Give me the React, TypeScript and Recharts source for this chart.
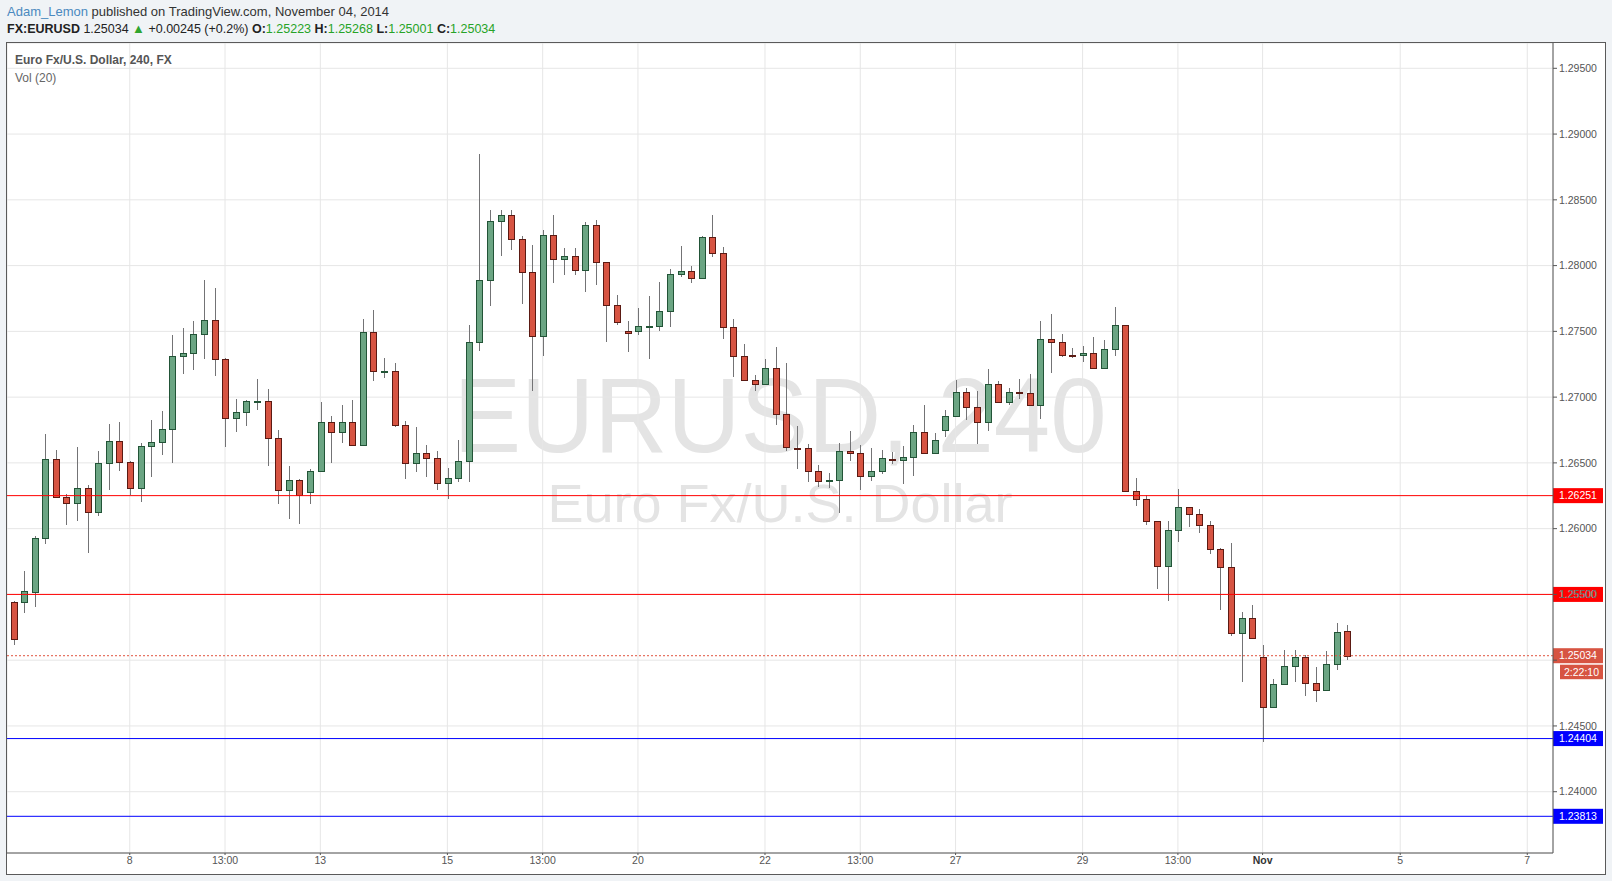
import React from 'react';
import { ComposedChart, Bar, XAxis, YAxis, CartesianGrid, ReferenceLine } from 'recharts';

// EURUSD 240 candles, oldest first
const opens = [
  1.25440, 1.25440, 1.25521, 1.25926, 1.26527, 1.26238, 1.26192, 1.26306, 1.26124, 1.26496,
  1.26664, 1.26504, 1.26306, 1.26626, 1.26656, 1.26755, 1.27310, 1.27333, 1.27477, 1.27583,
  1.27292, 1.26838, 1.26884, 1.26968, 1.26972, 1.26686, 1.26291, 1.26367, 1.26276, 1.26436,
  1.26808, 1.26732, 1.26808, 1.26633, 1.27492, 1.27196, 1.27201, 1.26785, 1.26496, 1.26572,
  1.26534, 1.26344, 1.26382, 1.26511, 1.27416, 1.27887, 1.28338, 1.28381, 1.28199, 1.27948,
  1.27462, 1.28230, 1.28048, 1.28071, 1.27964, 1.28306, 1.28025, 1.27699, 1.27500, 1.27500,
  1.27539, 1.27539, 1.27653, 1.27934, 1.27957, 1.27904, 1.28216, 1.28094, 1.27532, 1.27311,
  1.27131, 1.27100, 1.27222, 1.26870, 1.26617, 1.26615, 1.26437, 1.26362, 1.26368, 1.26588,
  1.26573, 1.26398, 1.26436, 1.26532, 1.26525, 1.26542, 1.26732, 1.26573, 1.26747, 1.26854,
  1.27036, 1.26922, 1.26808, 1.27097, 1.26961, 1.27036, 1.27030, 1.26939, 1.27440, 1.27418,
  1.27321, 1.27317, 1.27332, 1.27218, 1.27363, 1.27545, 1.26284, 1.26223, 1.26056, 1.25714,
  1.25987, 1.26162, 1.26109, 1.26025, 1.25843, 1.25706, 1.25204, 1.25318, 1.25024, 1.24642,
  1.24817, 1.24954, 1.25024, 1.24824, 1.24771, 1.24969, 1.25223,
];
const highs = [
  1.25448, 1.25678, 1.25944, 1.26719, 1.26598, 1.26261, 1.26620, 1.26332, 1.26590, 1.26795,
  1.26810, 1.26514, 1.26648, 1.26826, 1.26893, 1.27472, 1.27525, 1.27576, 1.27893, 1.27829,
  1.27295, 1.26986, 1.26975, 1.27137, 1.27063, 1.26749, 1.26476, 1.26377, 1.26453, 1.26961,
  1.26854, 1.26938, 1.26976, 1.27592, 1.27661, 1.27294, 1.27256, 1.26819, 1.26775, 1.26635,
  1.26588, 1.26458, 1.26675, 1.27548, 1.28852, 1.28421, 1.28426, 1.28426, 1.28224, 1.28156,
  1.28270, 1.28381, 1.28134, 1.28134, 1.28330, 1.28345, 1.28028, 1.27776, 1.27576, 1.27676,
  1.27771, 1.27876, 1.27974, 1.28150, 1.27998, 1.28224, 1.28385, 1.28142, 1.27595, 1.27404,
  1.27169, 1.27290, 1.27382, 1.27260, 1.26782, 1.26640, 1.26485, 1.26423, 1.26649, 1.26740,
  1.26634, 1.26611, 1.26597, 1.26581, 1.26626, 1.26785, 1.26938, 1.26725, 1.26900, 1.27127,
  1.27066, 1.27044, 1.27211, 1.27120, 1.27066, 1.27137, 1.27174, 1.27580, 1.27633, 1.27482,
  1.27370, 1.27386, 1.27454, 1.27431, 1.27682, 1.27550, 1.26383, 1.26256, 1.26060, 1.26060,
  1.26301, 1.26165, 1.26149, 1.26058, 1.25850, 1.25891, 1.25366, 1.25420, 1.25116, 1.24857,
  1.25078, 1.25078, 1.25040, 1.24948, 1.25070, 1.25285, 1.25268,
];
const lows = [
  1.25118, 1.25361, 1.25407, 1.25883, 1.26235, 1.26028, 1.26060, 1.25817, 1.26098, 1.26296,
  1.26441, 1.26258, 1.26205, 1.26395, 1.26562, 1.26501, 1.27177, 1.27208, 1.27292, 1.27162,
  1.26622, 1.26735, 1.26784, 1.26903, 1.26478, 1.26189, 1.26075, 1.26037, 1.26189, 1.26430,
  1.26496, 1.26653, 1.26628, 1.26628, 1.27124, 1.27148, 1.26775, 1.26381, 1.26433, 1.26389,
  1.26296, 1.26227, 1.26357, 1.26357, 1.27353, 1.27694, 1.28072, 1.28115, 1.27711, 1.27044,
  1.27310, 1.27870, 1.27926, 1.27926, 1.27797, 1.27851, 1.27422, 1.27547, 1.27345, 1.27470,
  1.27292, 1.27506, 1.27536, 1.27911, 1.27870, 1.27896, 1.28064, 1.27441, 1.27152, 1.27128,
  1.27050, 1.27097, 1.26791, 1.26594, 1.26453, 1.26351, 1.26320, 1.26312, 1.26116, 1.26512,
  1.26291, 1.26360, 1.26419, 1.26490, 1.26338, 1.26398, 1.26570, 1.26570, 1.26695, 1.26846,
  1.26824, 1.26640, 1.26741, 1.26958, 1.26939, 1.26989, 1.26935, 1.26832, 1.27185, 1.27302,
  1.27294, 1.27264, 1.27215, 1.27215, 1.27310, 1.26276, 1.26174, 1.26030, 1.25543, 1.25452,
  1.25901, 1.26015, 1.25969, 1.25809, 1.25384, 1.25186, 1.24837, 1.25160, 1.24380, 1.24640,
  1.24810, 1.24837, 1.24730, 1.24685, 1.24770, 1.24928, 1.25001,
];
const closes = [
  1.25159, 1.25524, 1.25926, 1.26527, 1.26238, 1.26192, 1.26306, 1.26124, 1.26496, 1.26664,
  1.26504, 1.26306, 1.26626, 1.26656, 1.26755, 1.27310, 1.27333, 1.27477, 1.27583, 1.27292,
  1.26838, 1.26884, 1.26968, 1.26972, 1.26686, 1.26291, 1.26367, 1.26253, 1.26436, 1.26808,
  1.26732, 1.26808, 1.26633, 1.27492, 1.27196, 1.27200, 1.26785, 1.26496, 1.26572, 1.26534,
  1.26344, 1.26382, 1.26511, 1.27416, 1.27887, 1.28338, 1.28381, 1.28199, 1.27948, 1.27462,
  1.28230, 1.28048, 1.28071, 1.27964, 1.28306, 1.28025, 1.27699, 1.27570, 1.27485, 1.27539,
  1.27541, 1.27653, 1.27934, 1.27957, 1.27904, 1.28216, 1.28094, 1.27532, 1.27311, 1.27131,
  1.27100, 1.27222, 1.26870, 1.26620, 1.26610, 1.26437, 1.26362, 1.26368, 1.26588, 1.26573,
  1.26398, 1.26436, 1.26534, 1.26525, 1.26542, 1.26732, 1.26573, 1.26672, 1.26854, 1.27036,
  1.26922, 1.26808, 1.27097, 1.26961, 1.27036, 1.27030, 1.26939, 1.27440, 1.27418, 1.27319,
  1.27317, 1.27332, 1.27218, 1.27363, 1.27545, 1.26284, 1.26223, 1.26056, 1.25714, 1.25987,
  1.26162, 1.26109, 1.26025, 1.25843, 1.25706, 1.25204, 1.25318, 1.25166, 1.24642, 1.24817,
  1.24954, 1.25024, 1.24824, 1.24771, 1.24969, 1.25212, 1.25034,
];

const timeTickIdx = [11, 20, 29, 41, 50, 59, 71, 80, 89, 101, 110, 118, 131, 143];
const timeTickLabels = ['8', '13:00', '13', '15', '13:00', '20', '22', '13:00', '27', '29', '13:00', 'Nov', '5', '7'];
const priceTicks = [1.24, 1.245, 1.25, 1.255, 1.26, 1.265, 1.27, 1.275, 1.28, 1.285, 1.29, 1.295];

const levelPrices = [1.26251, 1.255, 1.24404, 1.23813];
const levelColors = ['#ff0000', '#ff0000', '#0000ff', '#0000ff'];
const lastPrice = 1.25034;
const countdown = '2:22:10';

const rows = opens.map((o, i) => ({
  i,
  open: o,
  high: highs[i],
  low: lows[i],
  close: closes[i],
  range: [lows[i], highs[i]],
}));

const FONT = 'Arial, "Liberation Sans", sans-serif';
const UP_FILL = '#6ba583';
const UP_LINE = '#225437';
const DN_FILL = '#d75442';
const DN_LINE = '#5b1a13';
const TAG_RED = '#d75442';

const Candle = (props: any) => {
  const { x, y, width, height, payload } = props;
  if (!payload || x == null) return null;
  const { open, close, high, low } = payload;
  const top = Math.min(y, y + height);
  const span = Math.abs(height);
  const k = high > low ? span / (high - low) : 0;
  const yOf = (p: number) => top + (high - p) * k;
  const cx = Math.round(x + width / 2);
  const up = close >= open;
  const b1 = Math.round(yOf(Math.max(open, close)));
  const b2 = Math.round(yOf(Math.min(open, close)));
  const bh = Math.max(b2 - b1, 1);
  return (
    <g>
      <line x1={cx + 0.5} x2={cx + 0.5} y1={Math.round(top)} y2={Math.round(top + span)} stroke="#737375" strokeWidth={1} />
      <rect x={cx - 2.5} y={b1 + 0.5} width={6} height={bh} fill={up ? UP_FILL : DN_FILL} stroke={up ? UP_LINE : DN_LINE} strokeWidth={1} />
    </g>
  );
};

const PriceTag = (props: any) => {
  const { viewBox, text, bg, extra } = props;
  if (!viewBox) return null;
  const x0 = viewBox.x + viewBox.width;
  const y0 = viewBox.y;
  return (
    <g>
      <rect x={x0} y={y0 - 7.5} width={50} height={15} fill={bg} />
      <text x={x0 + 6} y={y0} dy="0.36em" fontSize={10.5} fontFamily={FONT} fill="#ffffff">{text}</text>
      {extra && (
        <g>
          <rect x={x0 + 7} y={y0 + 9} width={43} height={14.5} fill={bg} />
          <text x={x0 + 28.5} y={y0 + 16.3} dy="0.36em" textAnchor="middle" fontSize={10.5} fontFamily={FONT} fill="#ffffff">{extra}</text>
        </g>
      )}
    </g>
  );
};

const TimeTick = (props: any) => {
  const { x, y, payload } = props;
  const idx = timeTickIdx.indexOf(payload.value);
  const label = idx >= 0 ? timeTickLabels[idx] : '';
  return (
    <text x={x} y={y} dy="0.71em" textAnchor="middle" fontSize={10.5} fontFamily={FONT}
      fill={label === 'Nov' ? '#333' : '#555'} fontWeight={label === 'Nov' ? 'bold' : 'normal'}>
      {label}
    </text>
  );
};

// the last-price tag covers the 1.25000 label, as in the original
const PriceTick = (props: any) => {
  const { x, y, payload } = props;
  const v = Number(payload.value);
  if (Math.abs(v - lastPrice) < 0.001) return null;
  return (
    <text x={x} y={y} dy="0.36em" textAnchor="start" fontSize={10.5} fontFamily={FONT} fill="#555">
      {v.toFixed(5)}
    </text>
  );
};

const green = { color: '#27a327' };

export default function App() {
  return (
    <div style={{ position: 'absolute', left: 0, top: 0, width: 1612, height: 881, background: '#f0f3f6', fontFamily: FONT, overflow: 'hidden' }}>
      <div style={{ position: 'absolute', left: 7, top: 4, fontSize: 13, lineHeight: '16px', color: '#333', whiteSpace: 'nowrap' }}>
        <span style={{ color: '#4a89bf' }}>Adam_Lemon</span> published on TradingView.com, November 04, 2014
      </div>
      <div style={{ position: 'absolute', left: 7, top: 21, fontSize: 12.5, lineHeight: '16px', color: '#222', whiteSpace: 'nowrap' }}>
        <b>FX:EURUSD</b> 1.25034 <span style={{ color: '#2fa52f', fontSize: 13 }}>▲</span> +0.00245 (+0.2%){' '}
        <b>O:</b><span style={green}>1.25223</span> <b>H:</b><span style={green}>1.25268</span>{' '}
        <b>L:</b><span style={green}>1.25001</span> <b>C:</b><span style={green}>1.25034</span>
      </div>

      <div style={{ position: 'absolute', left: 6, top: 42, width: 1600, height: 833, boxSizing: 'border-box', border: '1px solid #5a5a5a', background: '#ffffff' }} />

      <svg style={{ position: 'absolute', left: 0, top: 0 }} width={1612} height={881}>
        <text x={780} y={452} textAnchor="middle" fontSize={106} fontFamily={FONT} fill="#e4e4e4" textLength={653} lengthAdjust="spacingAndGlyphs">EURUSD, 240</text>
        <text x={780} y={522} textAnchor="middle" fontSize={54} fontFamily={FONT} fill="#e4e4e4" textLength={465} lengthAdjust="spacingAndGlyphs">Euro Fx/U.S. Dollar</text>
      </svg>

      <div style={{ position: 'absolute', left: 7, top: 43 }}>
        <ComposedChart width={1598} height={831} data={rows} margin={{ top: 0, right: 0, bottom: 0, left: 0 }}>
          <CartesianGrid stroke="#e6e6e6" strokeWidth={1} />
          <XAxis type="number" dataKey="i" domain={[-0.595, 145.43]} allowDataOverflow ticks={timeTickIdx} interval={0}
            height={21} tickSize={2} tickMargin={2} axisLine={{ stroke: '#555' }} tickLine={{ stroke: '#555' }} tick={<TimeTick />} />
          <YAxis type="number" orientation="right" domain={[1.23534, 1.296924]} allowDataOverflow ticks={priceTicks} interval={0}
            width={52} tickSize={4} tickMargin={2} axisLine={{ stroke: '#555' }} tickLine={{ stroke: '#555' }} tick={<PriceTick />} />
          {levelPrices.map((p, k) => (
            <ReferenceLine key={p} y={p} stroke={levelColors[k]} strokeWidth={1}
              label={<PriceTag text={p.toFixed(5)} bg={levelColors[k]} />} />
          ))}
          <ReferenceLine y={lastPrice} stroke="#e0533f" strokeDasharray="2 2" strokeWidth={1}
            label={<PriceTag text={lastPrice.toFixed(5)} bg={TAG_RED} extra={countdown} />} />
          <Bar dataKey="range" barSize={7} shape={<Candle />} isAnimationActive={false} />
        </ComposedChart>
      </div>

      <div style={{ position: 'absolute', left: 15, top: 52, fontSize: 12, lineHeight: '16px', fontWeight: 'bold', color: '#555', whiteSpace: 'nowrap' }}>
        Euro Fx/U.S. Dollar, 240, FX
      </div>
      <div style={{ position: 'absolute', left: 15, top: 70, fontSize: 12, lineHeight: '16px', color: '#666', whiteSpace: 'nowrap' }}>
        Vol (20)
      </div>
    </div>
  );
}
